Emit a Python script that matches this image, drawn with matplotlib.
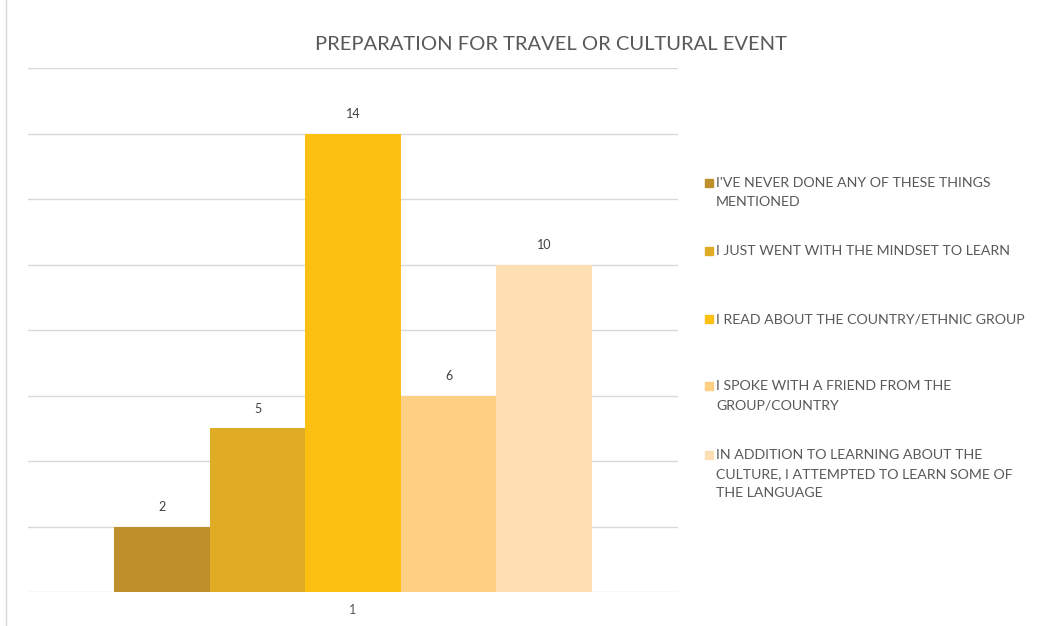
import matplotlib.pyplot as plt
from matplotlib.patches import Rectangle

# survey answers and counts
answers = [
    "I'VE NEVER DONE ANY OF THESE THINGS\nMENTIONED",
    "I JUST WENT WITH THE MINDSET TO LEARN",
    "I READ ABOUT THE COUNTRY/ETHNIC GROUP",
    "I SPOKE WITH A FRIEND FROM THE\nGROUP/COUNTRY",
    "IN ADDITION TO LEARNING ABOUT THE\nCULTURE, I ATTEMPTED TO LEARN SOME OF\nTHE LANGUAGE",
]
counts = [2, 5, 14, 6, 10]
colors = ["#BF8F2B", "#E0AC26", "#FCC013", "#FFD084", "#FDDFB3"]
category = "1"

plt.rcParams['font.family'] = ['Lato', 'DejaVu Sans']
text_color = "#595959"

W, H = 1038, 626
fig = plt.figure(figsize=(W / 100, H / 100), dpi=100)
ax = fig.add_axes([28 / W, 1 - 592 / H, 650 / W, (592 - 68) / H])

n = len(counts)
width = 95.5 / 650 * 2.0  # bar width in data units (x range 0..2)
center = 1.0
for i, (val, col) in enumerate(zip(counts, colors)):
    x = center + (i - (n - 1) / 2) * width
    ax.bar(x, val, width=width, color=col, zorder=2)
    ax.text(x, val + 0.4, str(val), ha='center', va='bottom',
            fontsize=9, color="#404040")

ax.set_xlim(0, 2)
ax.set_ylim(0, 16)
ax.set_yticks(range(0, 17, 2))
ax.set_yticklabels([])
ax.set_xticks([center])
ax.set_xticklabels([category], color=text_color, fontsize=9)
ax.tick_params(length=0, pad=9)
ax.grid(axis='y', color="#D9D9D9", linewidth=1, zorder=0)
for s in ax.spines.values():
    s.set_visible(False)

fig.text(551 / W, 1 - 45 / H, "PREPARATION FOR TRAVEL OR CULTURAL EVENT",
         ha='center', va='center', fontsize=14.5, color=text_color)

# legend entries placed in a column on the right
entry_tops = [183, 251, 319, 386, 455]
for label, col, top in zip(answers, colors, entry_tops):
    fig.patches.append(Rectangle((705 / W, 1 - (top + 4) / H), 8 / W, 8 / H,
                                 transform=fig.transFigure, color=col))
    fig.text(716 / W, 1 - (top - 6) / H, label, ha='left', va='top',
             fontsize=10.2, color=text_color, linespacing=1.72)

# thin frame line on the left edge
fig.add_artist(plt.Line2D([6 / W, 6 / W], [0, 1], color="#D9D9D9", lw=1))

fig.savefig("out.png", dpi=100)
